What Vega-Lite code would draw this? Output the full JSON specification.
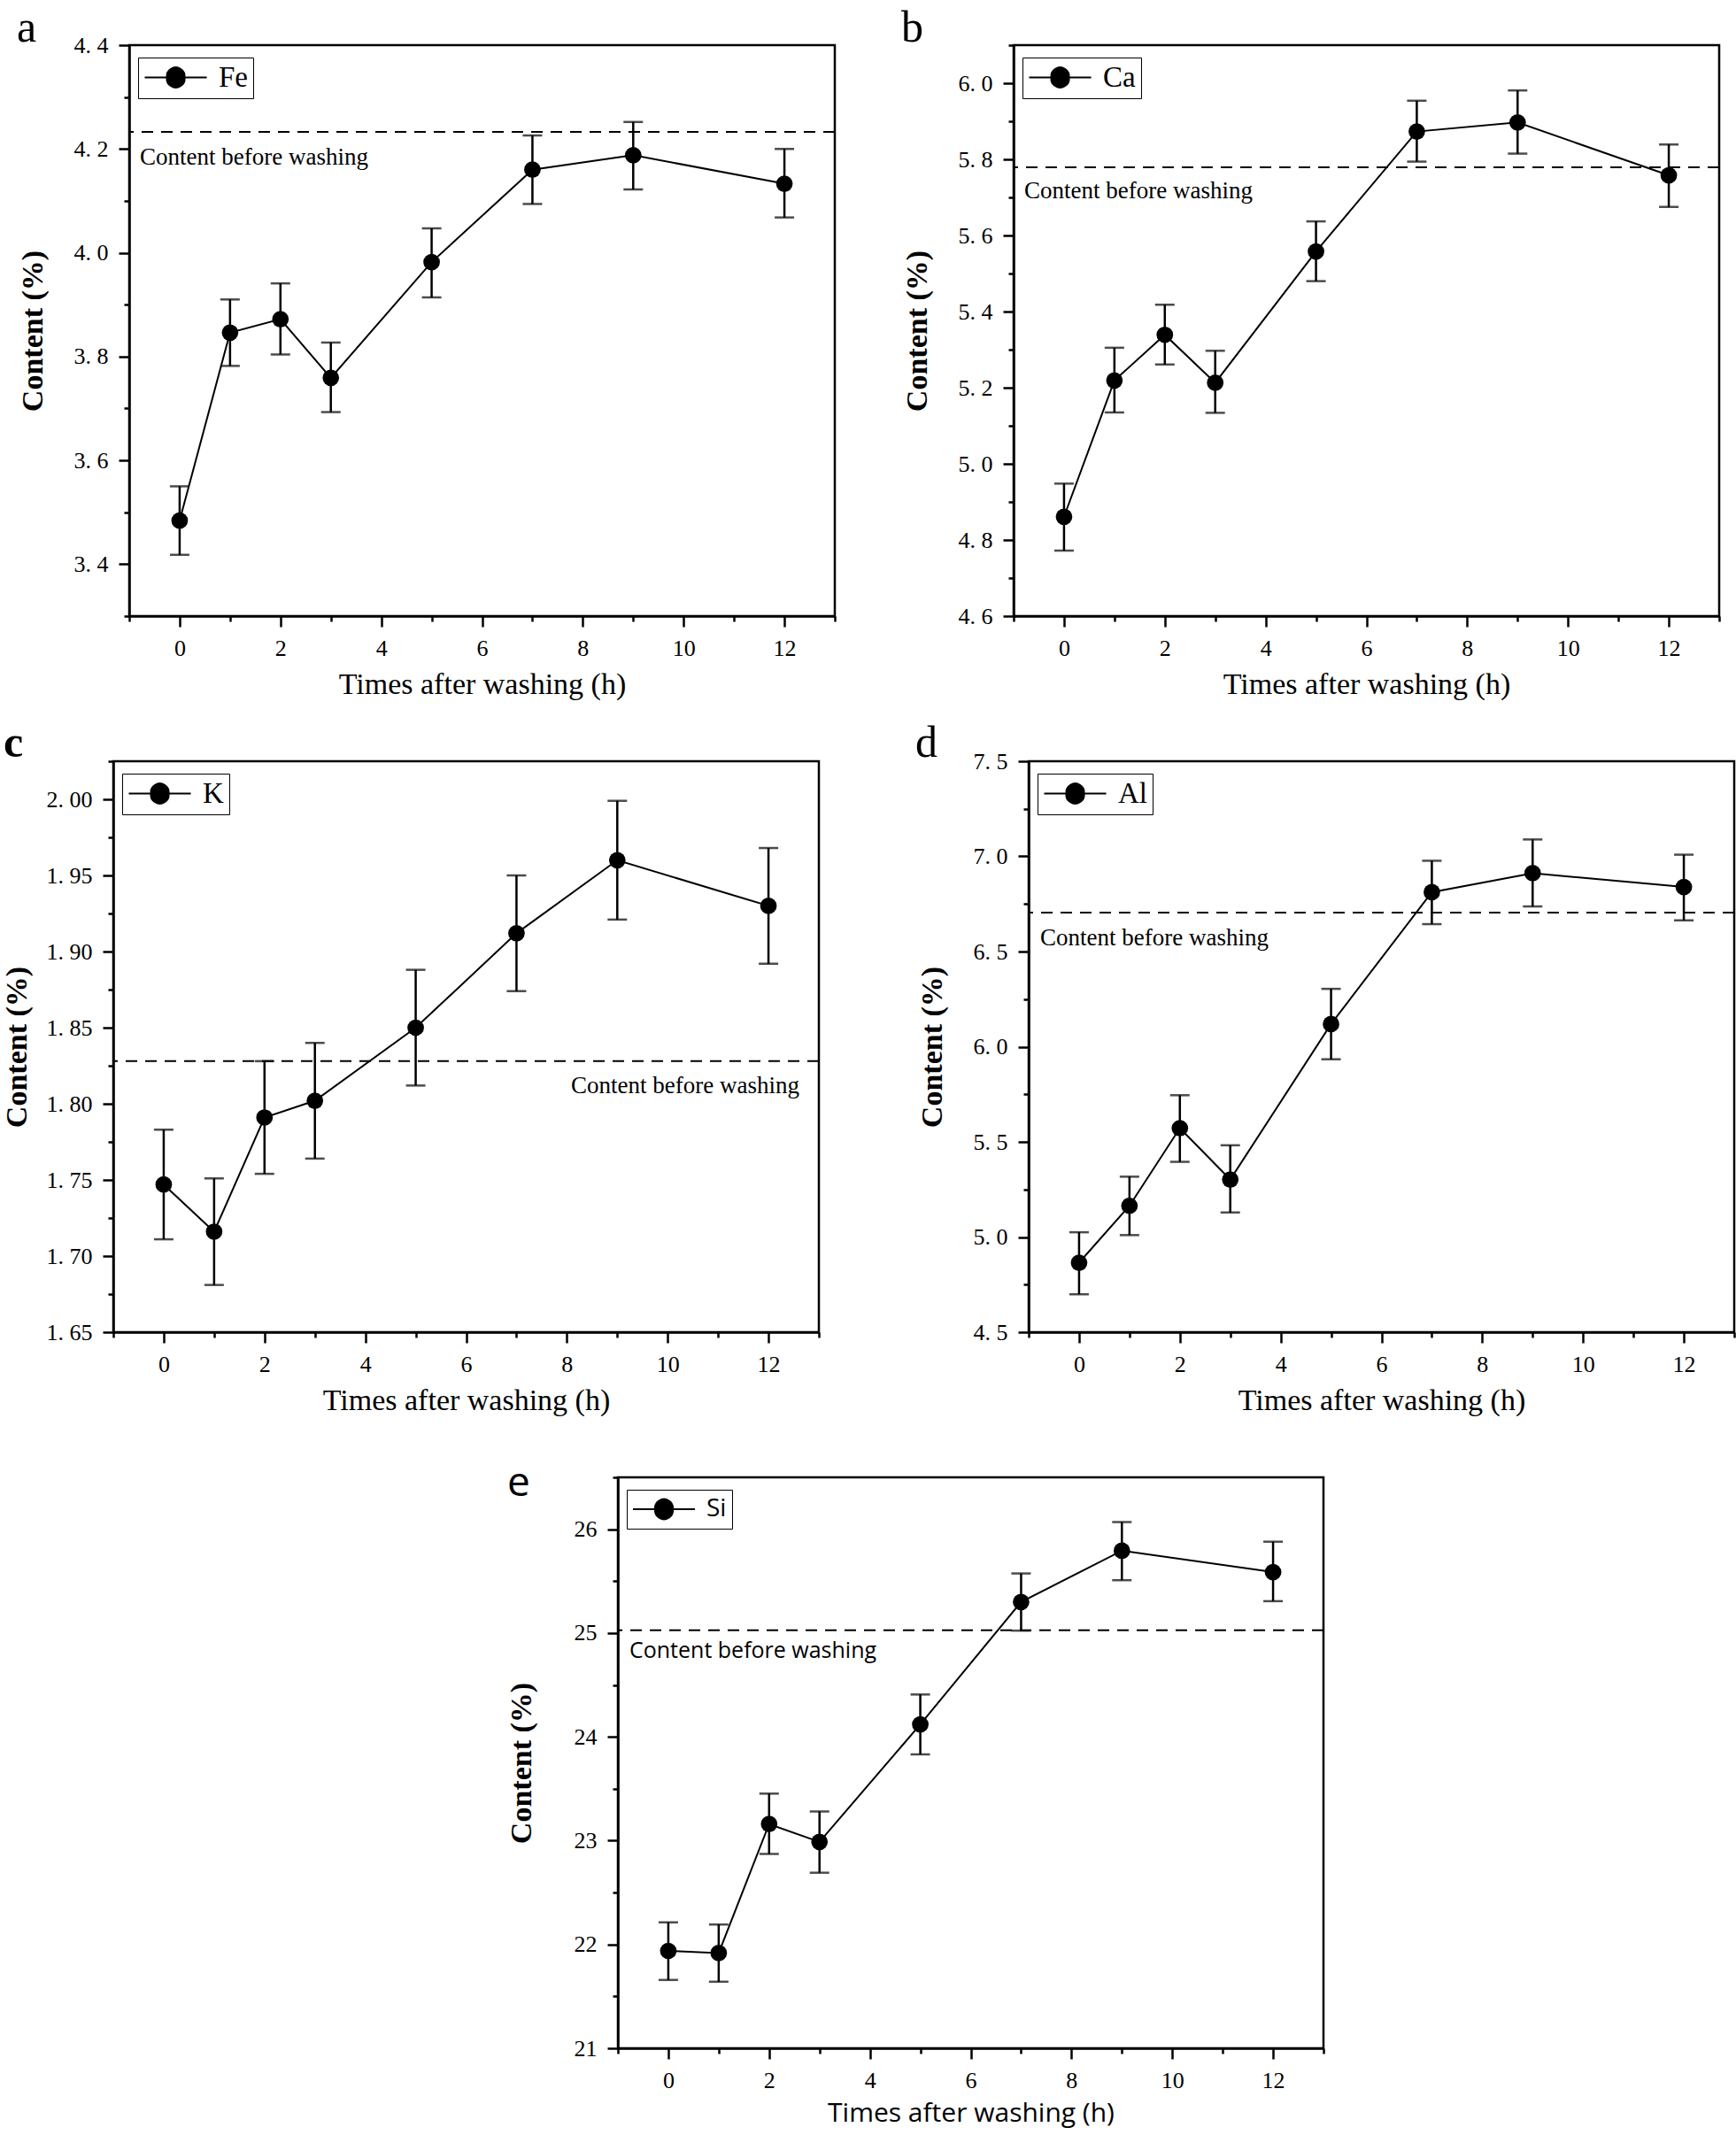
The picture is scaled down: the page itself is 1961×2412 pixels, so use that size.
{
  "$schema": "https://vega.github.io/schema/vega-lite/v6.json",
  "background": "white",
  "padding": {"left": 0, "top": 5, "right": 0, "bottom": 0},
  "datasets": {
    "Fe": [
      {"element": "Fe", "time": 0, "value": 3.484, "lo": 3.418, "hi": 3.550},
      {"element": "Fe", "time": 1, "value": 3.846, "lo": 3.782, "hi": 3.910},
      {"element": "Fe", "time": 2, "value": 3.872, "lo": 3.804, "hi": 3.941},
      {"element": "Fe", "time": 3, "value": 3.759, "lo": 3.693, "hi": 3.827},
      {"element": "Fe", "time": 5, "value": 3.982, "lo": 3.914, "hi": 4.047},
      {"element": "Fe", "time": 7, "value": 4.160, "lo": 4.094, "hi": 4.226},
      {"element": "Fe", "time": 9, "value": 4.188, "lo": 4.122, "hi": 4.252},
      {"element": "Fe", "time": 12, "value": 4.133, "lo": 4.068, "hi": 4.200}
    ],
    "Fe_ref": [{"base": 4.233, "label": "Content before washing"}],
    "Ca": [
      {"element": "Ca", "time": 0, "value": 4.861, "lo": 4.772, "hi": 4.948},
      {"element": "Ca", "time": 1, "value": 5.219, "lo": 5.135, "hi": 5.305},
      {"element": "Ca", "time": 2, "value": 5.339, "lo": 5.261, "hi": 5.418},
      {"element": "Ca", "time": 3, "value": 5.213, "lo": 5.134, "hi": 5.297},
      {"element": "Ca", "time": 5, "value": 5.558, "lo": 5.480, "hi": 5.637},
      {"element": "Ca", "time": 7, "value": 5.873, "lo": 5.794, "hi": 5.954},
      {"element": "Ca", "time": 9, "value": 5.897, "lo": 5.815, "hi": 5.981},
      {"element": "Ca", "time": 12, "value": 5.758, "lo": 5.675, "hi": 5.839}
    ],
    "Ca_ref": [{"base": 5.779, "label": "Content before washing"}],
    "K": [
      {"element": "K", "time": 0, "value": 1.747, "lo": 1.711, "hi": 1.783},
      {"element": "K", "time": 1, "value": 1.716, "lo": 1.681, "hi": 1.751},
      {"element": "K", "time": 2, "value": 1.791, "lo": 1.754, "hi": 1.828},
      {"element": "K", "time": 3, "value": 1.802, "lo": 1.764, "hi": 1.840},
      {"element": "K", "time": 5, "value": 1.850, "lo": 1.812, "hi": 1.888},
      {"element": "K", "time": 7, "value": 1.912, "lo": 1.874, "hi": 1.950},
      {"element": "K", "time": 9, "value": 1.960, "lo": 1.921, "hi": 1.999},
      {"element": "K", "time": 12, "value": 1.930, "lo": 1.892, "hi": 1.968}
    ],
    "K_ref": [{"base": 1.828, "label": "Content before washing"}],
    "Al": [
      {"element": "Al", "time": 0, "value": 4.865, "lo": 4.699, "hi": 5.025},
      {"element": "Al", "time": 1, "value": 5.164, "lo": 5.010, "hi": 5.317},
      {"element": "Al", "time": 2, "value": 5.572, "lo": 5.395, "hi": 5.745},
      {"element": "Al", "time": 3, "value": 5.302, "lo": 5.129, "hi": 5.482},
      {"element": "Al", "time": 5, "value": 6.119, "lo": 5.934, "hi": 6.304},
      {"element": "Al", "time": 7, "value": 6.812, "lo": 6.644, "hi": 6.977},
      {"element": "Al", "time": 9, "value": 6.912, "lo": 6.737, "hi": 7.089},
      {"element": "Al", "time": 12, "value": 6.839, "lo": 6.664, "hi": 7.009}
    ],
    "Al_ref": [{"base": 6.705, "label": "Content before washing"}],
    "Si": [
      {"element": "Si", "time": 0, "value": 21.938, "lo": 21.658, "hi": 22.213},
      {"element": "Si", "time": 1, "value": 21.917, "lo": 21.641, "hi": 22.192},
      {"element": "Si", "time": 2, "value": 23.160, "lo": 22.872, "hi": 23.453},
      {"element": "Si", "time": 3, "value": 22.988, "lo": 22.691, "hi": 23.281},
      {"element": "Si", "time": 5, "value": 24.120, "lo": 23.831, "hi": 24.408},
      {"element": "Si", "time": 7, "value": 25.299, "lo": 25.023, "hi": 25.574},
      {"element": "Si", "time": 9, "value": 25.793, "lo": 25.509, "hi": 26.069},
      {"element": "Si", "time": 12, "value": 25.587, "lo": 25.307, "hi": 25.880}
    ],
    "Si_ref": [{"base": 25.026, "label": "Content before washing"}]
  },
  "config": {
    "view": {"stroke": null},
    "font": "Liberation Serif",
    "axis": {
      "grid": false,
      "domainColor": "black",
      "domainWidth": 2.5,
      "tickColor": "black",
      "tickWidth": 2.5,
      "labelFont": "Liberation Serif",
      "labelFontSize": 26,
      "labelColor": "black",
      "labelFlush": false,
      "labelOverlap": false,
      "labelBound": false,
      "titleFont": "Liberation Serif",
      "titleColor": "black",
      "titleFontSize": 34
    },
    "axisX": {"labelPadding": 11, "titleFontWeight": "normal", "titleY": 60},
    "axisY": {"labelPadding": 12, "titleFontWeight": "bold", "titleX": -92},
    "title": {"font": "Liberation Serif", "fontSize": 50, "fontWeight": "normal", "anchor": "start", "frame": "group", "baseline": "alphabetic", "color": "black"},
    "point": {"strokeWidth": 2},
    "legend": {
      "title": null,
      "orient": "none",
      "legendX": 10,
      "legendY": 14,
      "strokeColor": "black",
      "padding": 6,
      "symbolType": "M-1,0H3.67M2,0A0.67,0.67 0 1 1 0.67,0A0.67,0.67 0 1 1 2,0Z",
      "symbolSize": 900,
      "symbolStrokeColor": "black",
      "symbolStrokeWidth": 2,
      "symbolFillColor": "black",
      "labelFont": "Liberation Serif",
      "labelFontSize": 33,
      "labelOffset": 52,
      "labelColor": "black"
    }
  },
  "bounds": "flush",
  "spacing": 809,
  "resolve": {"scale": {"color": "independent"}},
  "vconcat": [
    {
      "bounds": "flush",
      "spacing": 17,
      "resolve": {"scale": {"color": "independent"}},
      "hconcat": [
        {"width": 1, "height": 1, "data": {"values": []}, "mark": "point", "encoding": {}},
        {
          "bounds": "flush",
          "spacing": 202,
          "resolve": {"scale": {"color": "independent"}},
          "hconcat": [
            {
              "width": 797, "height": 645,
              "view": {"stroke": "black", "strokeWidth": 2.5},
              "title": {"text": "a", "dx": -127, "offset": -19},
              "layer": [
                {"data": {"name": "Fe_ref"}, "mark": {"type": "rule", "color": "black", "strokeWidth": 2, "strokeDash": [13, 9]},
                 "encoding": {"y": {"field": "base", "type": "quantitative", "title": "Content (%)", "scale": {"domain": [3.3, 4.4], "nice": false, "zero": false}}}},
                {"data": {"name": "Fe_ref"}, "mark": {"type": "text", "align": "left", "baseline": "alphabetic", "dx": 12, "dy": 37, "font": "Liberation Serif", "fontSize": 27, "color": "black"},
                 "encoding": {"x": {"datum": -1, "type": "quantitative", "scale": {"domain": [-1, 13], "nice": false, "zero": false}},
                              "y": {"field": "base", "type": "quantitative", "title": "Content (%)", "scale": {"domain": [3.3, 4.4], "nice": false, "zero": false}},
                              "text": {"field": "label"}}},
                {"data": {"name": "Fe"}, "mark": {"type": "errorbar", "ticks": true, "size": 22, "thickness": 2.5, "color": "black", "rule": {"strokeWidth": 2.5}},
                 "encoding": {"x": {"field": "time", "type": "quantitative", "title": "Times after washing (h)", "scale": {"domain": [-1, 13], "nice": false, "zero": false}},
                              "y": {"field": "lo", "type": "quantitative", "title": "Content (%)", "scale": {"domain": [3.3, 4.4], "nice": false, "zero": false}},
                              "y2": {"field": "hi"}}},
                {"data": {"name": "Fe"}, "mark": {"type": "line", "color": "black", "strokeWidth": 2},
                 "encoding": {"x": {"field": "time", "type": "quantitative", "title": "Times after washing (h)", "scale": {"domain": [-1, 13], "nice": false, "zero": false}},
                              "y": {"field": "value", "type": "quantitative", "title": "Content (%)", "scale": {"domain": [3.3, 4.4], "nice": false, "zero": false}}}},
                {"data": {"name": "Fe"}, "mark": {"type": "point", "filled": true, "shape": "circle", "size": 350, "opacity": 1},
                 "encoding": {
                   "x": {"field": "time", "type": "quantitative", "scale": {"domain": [-1, 13], "nice": false, "zero": false},
                         "axis": {"values": [-1, 0, 1, 2, 3, 4, 5, 6, 7, 8, 9, 10, 11, 12, 13], "labelExpr": "datum.value % 2 == 0 ? format(datum.value, 'd') : ''",
                                  "tickSize": {"condition": {"test": "datum.value % 2 == 0", "value": 12}, "value": 6}, "title": "Times after washing (h)"}},
                   "y": {"field": "value", "type": "quantitative", "scale": {"domain": [3.3, 4.4], "nice": false, "zero": false},
                         "axis": {"values": [3.3, 3.4, 3.5, 3.6, 3.7, 3.8, 3.9, 4.0, 4.1, 4.2, 4.3, 4.4],
                                  "labelExpr": "round(datum.value*10) % 2 == 0 ? replace(format(datum.value, '.1f'), '.', '. ') : ''",
                                  "tickSize": {"condition": {"test": "round(datum.value*10) % 2 == 0", "value": 12}, "value": 6}, "title": "Content (%)"}},
                   "color": {"field": "element", "type": "nominal", "scale": {"range": ["black"]}, "legend": {}}
                 }}
              ]
            },
            {
              "width": 797, "height": 645,
              "view": {"stroke": "black", "strokeWidth": 2.5},
              "title": {"text": "b", "dx": -127, "offset": -19},
              "layer": [
                {"data": {"name": "Ca_ref"}, "mark": {"type": "rule", "color": "black", "strokeWidth": 2, "strokeDash": [13, 9]},
                 "encoding": {"y": {"field": "base", "type": "quantitative", "title": "Content (%)", "scale": {"domain": [4.6, 6.1], "nice": false, "zero": false}}}},
                {"data": {"name": "Ca_ref"}, "mark": {"type": "text", "align": "left", "baseline": "alphabetic", "dx": 12, "dy": 35, "font": "Liberation Serif", "fontSize": 27, "color": "black"},
                 "encoding": {"x": {"datum": -1, "type": "quantitative", "scale": {"domain": [-1, 13], "nice": false, "zero": false}},
                              "y": {"field": "base", "type": "quantitative", "title": "Content (%)", "scale": {"domain": [4.6, 6.1], "nice": false, "zero": false}},
                              "text": {"field": "label"}}},
                {"data": {"name": "Ca"}, "mark": {"type": "errorbar", "ticks": true, "size": 22, "thickness": 2.5, "color": "black", "rule": {"strokeWidth": 2.5}},
                 "encoding": {"x": {"field": "time", "type": "quantitative", "title": "Times after washing (h)", "scale": {"domain": [-1, 13], "nice": false, "zero": false}},
                              "y": {"field": "lo", "type": "quantitative", "title": "Content (%)", "scale": {"domain": [4.6, 6.1], "nice": false, "zero": false}},
                              "y2": {"field": "hi"}}},
                {"data": {"name": "Ca"}, "mark": {"type": "line", "color": "black", "strokeWidth": 2},
                 "encoding": {"x": {"field": "time", "type": "quantitative", "title": "Times after washing (h)", "scale": {"domain": [-1, 13], "nice": false, "zero": false}},
                              "y": {"field": "value", "type": "quantitative", "title": "Content (%)", "scale": {"domain": [4.6, 6.1], "nice": false, "zero": false}}}},
                {"data": {"name": "Ca"}, "mark": {"type": "point", "filled": true, "shape": "circle", "size": 350, "opacity": 1},
                 "encoding": {
                   "x": {"field": "time", "type": "quantitative", "scale": {"domain": [-1, 13], "nice": false, "zero": false},
                         "axis": {"values": [-1, 0, 1, 2, 3, 4, 5, 6, 7, 8, 9, 10, 11, 12, 13], "labelExpr": "datum.value % 2 == 0 ? format(datum.value, 'd') : ''",
                                  "tickSize": {"condition": {"test": "datum.value % 2 == 0", "value": 12}, "value": 6}, "title": "Times after washing (h)"}},
                   "y": {"field": "value", "type": "quantitative", "scale": {"domain": [4.6, 6.1], "nice": false, "zero": false},
                         "axis": {"values": [4.6, 4.7, 4.8, 4.9, 5.0, 5.1, 5.2, 5.3, 5.4, 5.5, 5.6, 5.7, 5.8, 5.9, 6.0, 6.1],
                                  "labelExpr": "round(datum.value*10) % 2 == 0 ? replace(format(datum.value, '.1f'), '.', '. ') : ''",
                                  "tickSize": {"condition": {"test": "round(datum.value*10) % 2 == 0", "value": 12}, "value": 6}, "title": "Content (%)"}},
                   "color": {"field": "element", "type": "nominal", "scale": {"range": ["black"]}, "legend": {}}
                 }}
              ]
            }
          ]
        }
      ]
    },
    {
      "bounds": "flush",
      "spacing": 237,
      "resolve": {"scale": {"color": "independent"}},
      "hconcat": [
        {
          "width": 797, "height": 645,
          "view": {"stroke": "black", "strokeWidth": 2.5},
          "title": {"text": "c", "dx": -124, "offset": -18, "fontWeight": "bold"},
          "layer": [
            {"data": {"name": "K_ref"}, "mark": {"type": "rule", "color": "black", "strokeWidth": 2, "strokeDash": [13, 9]},
             "encoding": {"y": {"field": "base", "type": "quantitative", "title": "Content (%)", "scale": {"domain": [1.65, 2.025], "nice": false, "zero": false}}}},
            {"data": {"name": "K_ref"}, "mark": {"type": "text", "align": "right", "baseline": "alphabetic", "dx": -22, "dy": 36, "font": "Liberation Serif", "fontSize": 27, "color": "black"},
             "encoding": {"x": {"datum": 13, "type": "quantitative", "scale": {"domain": [-1, 13], "nice": false, "zero": false}},
                          "y": {"field": "base", "type": "quantitative", "title": "Content (%)", "scale": {"domain": [1.65, 2.025], "nice": false, "zero": false}},
                          "text": {"field": "label"}}},
            {"data": {"name": "K"}, "mark": {"type": "errorbar", "ticks": true, "size": 22, "thickness": 2.5, "color": "black", "rule": {"strokeWidth": 2.5}},
             "encoding": {"x": {"field": "time", "type": "quantitative", "title": "Times after washing (h)", "scale": {"domain": [-1, 13], "nice": false, "zero": false}},
                          "y": {"field": "lo", "type": "quantitative", "title": "Content (%)", "scale": {"domain": [1.65, 2.025], "nice": false, "zero": false}},
                          "y2": {"field": "hi"}}},
            {"data": {"name": "K"}, "mark": {"type": "line", "color": "black", "strokeWidth": 2},
             "encoding": {"x": {"field": "time", "type": "quantitative", "title": "Times after washing (h)", "scale": {"domain": [-1, 13], "nice": false, "zero": false}},
                          "y": {"field": "value", "type": "quantitative", "title": "Content (%)", "scale": {"domain": [1.65, 2.025], "nice": false, "zero": false}}}},
            {"data": {"name": "K"}, "mark": {"type": "point", "filled": true, "shape": "circle", "size": 350, "opacity": 1},
             "encoding": {
               "x": {"field": "time", "type": "quantitative", "scale": {"domain": [-1, 13], "nice": false, "zero": false},
                     "axis": {"values": [-1, 0, 1, 2, 3, 4, 5, 6, 7, 8, 9, 10, 11, 12, 13], "labelExpr": "datum.value % 2 == 0 ? format(datum.value, 'd') : ''",
                              "tickSize": {"condition": {"test": "datum.value % 2 == 0", "value": 12}, "value": 6}, "title": "Times after washing (h)"}},
               "y": {"field": "value", "type": "quantitative", "scale": {"domain": [1.65, 2.025], "nice": false, "zero": false},
                     "axis": {"values": [1.65, 1.675, 1.7, 1.725, 1.75, 1.775, 1.8, 1.825, 1.85, 1.875, 1.9, 1.925, 1.95, 1.975, 2.0, 2.025],
                              "labelExpr": "round(datum.value*1000) % 50 == 0 ? replace(format(datum.value, '.2f'), '.', '. ') : ''",
                              "tickSize": {"condition": {"test": "round(datum.value*1000) % 50 == 0", "value": 12}, "value": 6}, "title": "Content (%)"}},
               "color": {"field": "element", "type": "nominal", "scale": {"range": ["black"]}, "legend": {}}
             }}
          ]
        },
        {
          "width": 797, "height": 645,
          "view": {"stroke": "black", "strokeWidth": 2.5},
          "title": {"text": "d", "dx": -128, "offset": -18},
          "layer": [
            {"data": {"name": "Al_ref"}, "mark": {"type": "rule", "color": "black", "strokeWidth": 2, "strokeDash": [13, 9]},
             "encoding": {"y": {"field": "base", "type": "quantitative", "title": "Content (%)", "scale": {"domain": [4.5, 7.5], "nice": false, "zero": false}}}},
            {"data": {"name": "Al_ref"}, "mark": {"type": "text", "align": "left", "baseline": "alphabetic", "dx": 13, "dy": 37, "font": "Liberation Serif", "fontSize": 27, "color": "black"},
             "encoding": {"x": {"datum": -1, "type": "quantitative", "scale": {"domain": [-1, 13], "nice": false, "zero": false}},
                          "y": {"field": "base", "type": "quantitative", "title": "Content (%)", "scale": {"domain": [4.5, 7.5], "nice": false, "zero": false}},
                          "text": {"field": "label"}}},
            {"data": {"name": "Al"}, "mark": {"type": "errorbar", "ticks": true, "size": 22, "thickness": 2.5, "color": "black", "rule": {"strokeWidth": 2.5}},
             "encoding": {"x": {"field": "time", "type": "quantitative", "title": "Times after washing (h)", "scale": {"domain": [-1, 13], "nice": false, "zero": false}},
                          "y": {"field": "lo", "type": "quantitative", "title": "Content (%)", "scale": {"domain": [4.5, 7.5], "nice": false, "zero": false}},
                          "y2": {"field": "hi"}}},
            {"data": {"name": "Al"}, "mark": {"type": "line", "color": "black", "strokeWidth": 2},
             "encoding": {"x": {"field": "time", "type": "quantitative", "title": "Times after washing (h)", "scale": {"domain": [-1, 13], "nice": false, "zero": false}},
                          "y": {"field": "value", "type": "quantitative", "title": "Content (%)", "scale": {"domain": [4.5, 7.5], "nice": false, "zero": false}}}},
            {"data": {"name": "Al"}, "mark": {"type": "point", "filled": true, "shape": "circle", "size": 350, "opacity": 1},
             "encoding": {
               "x": {"field": "time", "type": "quantitative", "scale": {"domain": [-1, 13], "nice": false, "zero": false},
                     "axis": {"values": [-1, 0, 1, 2, 3, 4, 5, 6, 7, 8, 9, 10, 11, 12, 13], "labelExpr": "datum.value % 2 == 0 ? format(datum.value, 'd') : ''",
                              "tickSize": {"condition": {"test": "datum.value % 2 == 0", "value": 12}, "value": 6}, "title": "Times after washing (h)"}},
               "y": {"field": "value", "type": "quantitative", "scale": {"domain": [4.5, 7.5], "nice": false, "zero": false},
                     "axis": {"values": [4.5, 4.75, 5.0, 5.25, 5.5, 5.75, 6.0, 6.25, 6.5, 6.75, 7.0, 7.25, 7.5],
                              "labelExpr": "round(datum.value*100) % 50 == 0 ? replace(format(datum.value, '.1f'), '.', '. ') : ''",
                              "tickSize": {"condition": {"test": "round(datum.value*100) % 50 == 0", "value": 12}, "value": 6}, "title": "Content (%)"}},
               "color": {"field": "element", "type": "nominal", "scale": {"range": ["black"]}, "legend": {}}
             }}
          ]
        }
      ]
    },
    {
      "bounds": "flush",
      "spacing": 569,
      "resolve": {"scale": {"color": "independent"}},
      "hconcat": [
        {"width": 1, "height": 1, "data": {"values": []}, "mark": "point", "encoding": {}},
        {
          "width": 797, "height": 645,
          "view": {"stroke": "black", "strokeWidth": 2.5},
          "title": {"text": "e", "dx": -125, "offset": -25, "dy": 19, "font": "Open Sans", "fontWeight": "normal", "fontSize": 46},
          "layer": [
            {"data": {"name": "Si_ref"}, "mark": {"type": "rule", "color": "black", "strokeWidth": 2, "strokeDash": [13, 9]},
             "encoding": {"y": {"field": "base", "type": "quantitative", "title": "Content (%)", "scale": {"domain": [21, 26.5], "nice": false, "zero": false}}}},
            {"data": {"name": "Si_ref"}, "mark": {"type": "text", "align": "left", "baseline": "alphabetic", "dx": 13, "dy": 31, "font": "Open Sans", "fontSize": 25, "color": "black"},
             "encoding": {"x": {"datum": -1, "type": "quantitative", "scale": {"domain": [-1, 13], "nice": false, "zero": false}},
                          "y": {"field": "base", "type": "quantitative", "title": "Content (%)", "scale": {"domain": [21, 26.5], "nice": false, "zero": false}},
                          "text": {"field": "label"}}},
            {"data": {"name": "Si"}, "mark": {"type": "errorbar", "ticks": true, "size": 22, "thickness": 2.5, "color": "black", "rule": {"strokeWidth": 2.5}},
             "encoding": {"x": {"field": "time", "type": "quantitative", "title": "Times after washing (h)", "scale": {"domain": [-1, 13], "nice": false, "zero": false}},
                          "y": {"field": "lo", "type": "quantitative", "title": "Content (%)", "scale": {"domain": [21, 26.5], "nice": false, "zero": false}},
                          "y2": {"field": "hi"}}},
            {"data": {"name": "Si"}, "mark": {"type": "line", "color": "black", "strokeWidth": 2},
             "encoding": {"x": {"field": "time", "type": "quantitative", "title": "Times after washing (h)", "scale": {"domain": [-1, 13], "nice": false, "zero": false}},
                          "y": {"field": "value", "type": "quantitative", "title": "Content (%)", "scale": {"domain": [21, 26.5], "nice": false, "zero": false}}}},
            {"data": {"name": "Si"}, "mark": {"type": "point", "filled": true, "shape": "circle", "size": 350, "opacity": 1},
             "encoding": {
               "x": {"field": "time", "type": "quantitative", "scale": {"domain": [-1, 13], "nice": false, "zero": false},
                     "axis": {"values": [-1, 0, 1, 2, 3, 4, 5, 6, 7, 8, 9, 10, 11, 12, 13], "labelExpr": "datum.value % 2 == 0 ? format(datum.value, 'd') : ''",
                              "tickSize": {"condition": {"test": "datum.value % 2 == 0", "value": 12}, "value": 6}, "title": "Times after washing (h)",
                              "titleFont": "Open Sans", "titleFontSize": 30, "titleY": 58}},
               "y": {"field": "value", "type": "quantitative", "scale": {"domain": [21, 26.5], "nice": false, "zero": false},
                     "axis": {"values": [21, 21.5, 22, 22.5, 23, 23.5, 24, 24.5, 25, 25.5, 26, 26.5],
                              "labelExpr": "round(datum.value*2) % 2 == 0 ? format(datum.value, 'd') : ''",
                              "tickSize": {"condition": {"test": "round(datum.value*2) % 2 == 0", "value": 12}, "value": 6}, "title": "Content (%)"}},
               "color": {"field": "element", "type": "nominal", "scale": {"range": ["black"]},
                         "legend": {"labelFont": "Open Sans", "labelFontSize": 28}}
             }}
          ]
        }
      ]
    }
  ]
}
